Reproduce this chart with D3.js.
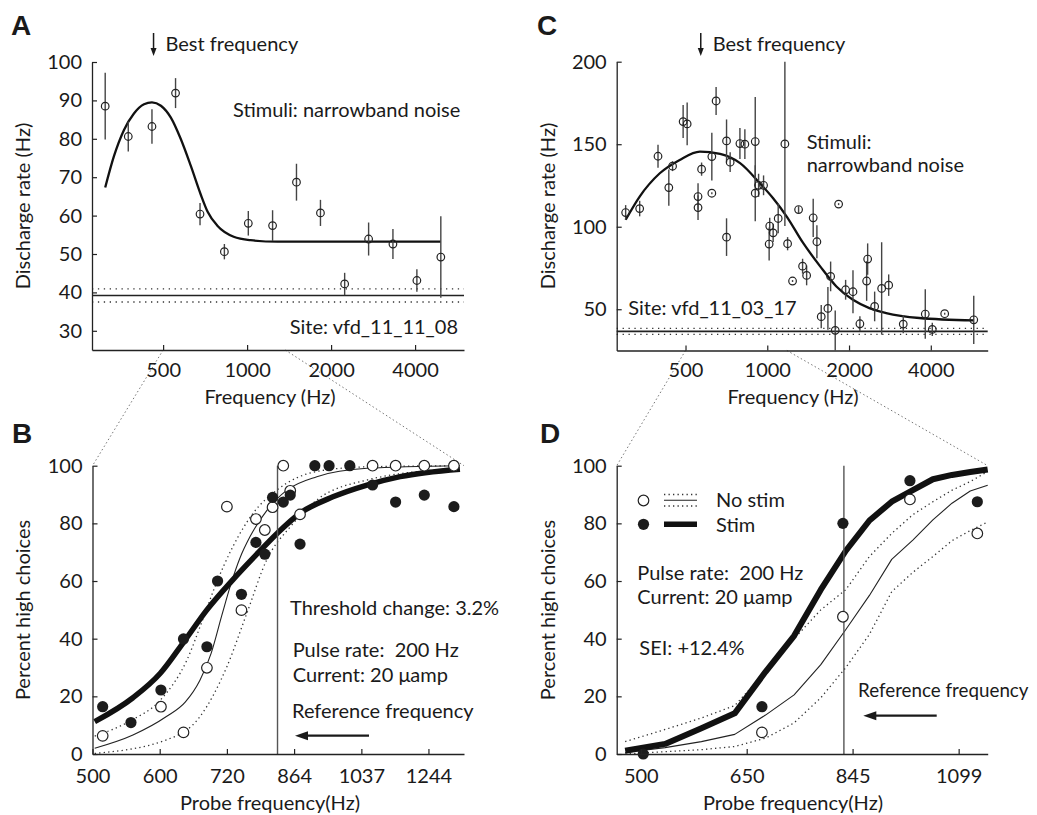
<!DOCTYPE html>
<html>
<head>
<meta charset="utf-8">
<script src="https://cdn.jsdelivr.net/npm/d3@7"></script>
<style>
  body { margin: 0; background: #fff; }
  svg text { font-family: Lato, "Open Sans", sans-serif; fill: #1a1a1a; white-space: pre; }
</style>
</head>
<body>
<svg id="fig" width="1037" height="815"></svg>
<script>
// ---------------- Panel A: tuning curve, site vfd_11_11_08 ----------------
const aFreq = [310, 375, 456, 554, 678, 829, 1010, 1234, 1503, 1832, 2237, 2726, 3332, 4060, 4947];
const aRate = [88.5, 80.6, 83.2, 91.9, 60.4, 50.6, 58.0, 57.4, 68.7, 60.7, 42.2, 53.9, 52.6, 43.1, 49.2];
const aSem  = [8.7, 3.9, 4.5, 3.9, 2.9, 2.0, 3.2, 4.0, 4.8, 3.4, 2.9, 4.3, 3.9, 2.9, 10.6];
const aFitFreq = [310, 333, 362, 393, 427, 456, 491, 533, 578, 628, 682, 722, 784, 895, 1029, 1285, 4947];
const aFitRate = [67.3, 75.4, 82.3, 86.6, 89.0, 89.5, 88.6, 85.5, 80.0, 73.0, 65.5, 61.0, 57.3, 54.5, 53.6, 53.2, 53.2];
const aSpont = 39.2, aSpontSd = 1.7;
const aBestFreq = 462;
const aXTicks = [500, 1000, 2000, 4000];
const aYTicks = [30, 40, 50, 60, 70, 80, 90, 100];

// ---------------- Panel B: psychometric functions, 200 Hz / 20 uA ----------------
const bNoStimFreq = [514, 602, 640, 682, 720, 749, 779, 798, 815, 839, 855, 878, 1069, 1138, 1230, 1333];
const bNoStimPct  = [6.3, 16.4, 7.5, 29.9, 85.8, 49.9, 81.5, 77.7, 85.6, 100, 91.3, 83.1, 100, 100, 100, 100];
const bStimFreq = [514, 555, 602, 640, 682, 702, 749, 779, 798, 815, 839, 855, 878, 914, 950, 1005, 1069, 1138, 1230, 1333];
const bStimPct  = [16.4, 10.9, 22.2, 39.9, 37.2, 60.0, 55.4, 73.4, 69.3, 89.0, 87.4, 89.8, 72.8, 100, 100, 100, 93.3, 87.4, 89.8, 85.8];
const bStimFitFreq = [503, 558, 601, 641, 682, 732, 779, 825, 878, 960, 1053, 1152, 1355];
const bStimFitPct  = [11.2, 19.5, 28, 39, 50, 60.5, 69, 76.5, 83.5, 89.2, 93.3, 96.2, 98.8];
const bNoStimFitFreq = [503, 558, 611, 643, 669, 690, 710, 728, 746, 767, 803, 848, 919, 1053, 1355];
const bNoStimFitPct  = [2, 6.6, 13, 18, 25.5, 35, 48, 59, 68, 75.5, 84.6, 91.6, 96.2, 99.1, 100];
const bNoStimHiFreq = [503, 554, 601, 646, 675, 697, 732, 773, 825, 919, 1053, 1355];
const bNoStimHiPct  = [6.2, 11.5, 18.7, 32.6, 47, 58, 72, 83.5, 91.6, 98, 99.6, 100];
const bNoStimLoFreq = [503, 611, 669, 720, 760, 802, 855, 919, 1052, 1355];
const bNoStimLoPct  = [0.2, 4.9, 12.9, 30.3, 48.8, 67.3, 78.8, 88.1, 95, 99.1];
const bRefFreq = 826;
const bXDomain = [500, 1370];
const bXTicks = [500, 600, 720, 864, 1037, 1244];
const pctTicks = [0, 20, 40, 60, 80, 100];

// ---------------- Panel C: tuning curve, site vfd_11_03_17 ----------------
const cFreq = [301, 339, 396, 434, 448, 490, 507, 556, 556, 573, 625, 625, 648, 708, 708, 730, 793, 827, 903, 903,
               929, 969, 1016, 1021, 1051, 1097, 1161, 1188, 1239, 1304, 1349, 1396, 1476, 1523, 1580, 1672, 1711, 1779,
               1831, 1943, 2068, 2193, 2322, 2342, 2485, 2637, 2799, 3167, 3817, 4051, 4500, 5757];
const cRate = [108.6, 111.0, 142.7, 123.7, 136.7, 163.7, 162.3, 118.3, 111.6, 134.9, 142.5, 120.3, 176.2, 152.0, 93.7, 139.1, 150.4, 150.0, 151.6, 120.3,
               125.1, 125.1, 89.5, 100.4, 96.3, 105.0, 150.2, 89.7, 67.1, 110.4, 76.1, 70.5, 105.4, 90.9, 45.5, 50.5, 69.9, 37.2,
               113.7, 61.8, 60.6, 41.2, 67.1, 80.4, 51.7, 62.6, 64.6, 41.0, 47.1, 37.8, 47.3, 43.6];
const cSem  = [4.5, 4.7, 7.0, 11, 3, 10, 13, 8, 7.5, 4, 14.5, 0.6, 8.5, 13, 11.4, 6, 9.4, 9, 27, 17,
               7, 6, 10, 5, 5.5, 9, 49.8, 4, 0.6, 2, 4.5, 6, 11.6, 10, 7, 13, 9, 12,
               0.6, 6, 13, 4.5, 12, 9.5, 9, 28, 6.5, 5.5, 15, 4, 0.6, 14.6];
const cFitFreq = [301, 339, 402, 476, 565, 670, 794, 938, 1049, 1181, 1353, 1566, 1797, 2067, 2376, 2740, 3630, 5757];
const cFitRate = [104.2, 118.3, 132.4, 140.5, 145.5, 144.1, 138.5, 126.4, 117.4, 106.0, 90.3, 76.0, 63.8, 55.7, 50.7, 47.7, 44.7, 43.2];
const cSpont = 36.6, cSpontSd = 1.8;
const cBestFreq = 569;
const cXTicks = [500, 1000, 2000, 4000];
const cYTicks = [50, 100, 150, 200];

// ---------------- Panel D: psychometric functions, SEI +12.4% ----------------
const dNoStimFreq = [675, 825, 974, 1151];
const dNoStimPct  = [7.5, 47.6, 88.3, 76.5];
const dStimFreq = [503, 675, 825, 974, 1151];
const dStimPct  = [0, 16.4, 80, 94.8, 87.5];
const dFitFreq = [481, 531, 581, 631, 681, 731, 781, 831, 881, 931, 981, 1031, 1081, 1131, 1181];
const dStimFitPct    = [1.1, 3.5, 8.9, 14.1, 28.5, 41, 57, 70.5, 81, 87.5, 91.5, 95.3, 96.8, 97.8, 98.7];
const dNoStimFitPct  = [0.5, 2.2, 4.3, 6.8, 13.5, 20.5, 31, 43.2, 55, 67.5, 74.2, 81.2, 87, 91.2, 93.2];
const dNoStimHiPct   = [4.3, 8.5, 12.5, 16.8, 28.5, 40, 50, 57, 68.5, 76.5, 83, 87.5, 91.5, 94.5, 98];
const dNoStimLoPct   = [0, 0.8, 1.5, 2.6, 5.5, 10.8, 19.5, 30, 41.5, 56.3, 63, 68.5, 74, 77.5, 80.5];
const dRefFreq = 827;
const dXDomain = [471, 1181];
const dZoomFrom = 500;
const dXTicks = [500, 650, 845, 1099];

// ---------------- figure ----------------
const svg = d3.select("#fig");
const INK = "#1a1a1a";

const boxA = { left: 92, right: 464, top: 62, bottom: 350 };
const boxB = { left: 92.5, right: 464, top: 465.7, bottom: 754 };
const boxC = { left: 616.7, right: 987.7, top: 61.7, bottom: 350.5 };
const boxD = { left: 616.7, right: 987.7, top: 465.7, bottom: 754 };

const xA = d3.scaleLog().base(2).domain([278, 5990]).range([boxA.left, boxA.right]);
const yA = d3.scaleLinear().domain([25, 100]).range([boxA.bottom, boxA.top]);
const xB = d3.scaleLog().base(2).domain(bXDomain).range([boxB.left, boxB.right]);
const yB = d3.scaleLinear().domain([0, 100]).range([boxB.bottom, boxB.top]);
const xC = d3.scaleLog().base(2).domain([279, 6480]).range([boxC.left, boxC.right]);
const yC = d3.scaleLinear().domain([25, 200]).range([boxC.bottom, boxC.top]);
const xD = d3.scaleLog().base(2).domain(dXDomain).range([boxD.left, boxD.right]);
const yD = d3.scaleLinear().domain([0, 100]).range([boxD.bottom, boxD.top]);

const zip = (f, v) => f.map((d, i) => ({ f: d, v: v[i] }));

function axes(x, y, xTicks, yTicks, xPad) {
  const g = svg.append("g");
  const ax = d3.axisBottom(x).tickValues(xTicks).tickFormat(d3.format("d"))
    .tickSizeInner(-5).tickSizeOuter(0).tickPadding(xPad);
  const ay = d3.axisLeft(y).tickValues(yTicks).tickFormat(d3.format("d"))
    .tickSizeInner(-5).tickSizeOuter(0).tickPadding(10);
  g.append("g").attr("transform", `translate(0,${y.range()[0]})`).call(ax);
  g.append("g").attr("transform", `translate(${x.range()[0]},0)`).call(ay);
  g.selectAll("g").attr("font-family", null).attr("font-size", null);
  g.selectAll(".domain").attr("stroke", "#222").attr("stroke-width", 1.3);
  g.selectAll(".tick line").attr("stroke", "#222").attr("stroke-width", 1.2);
  g.selectAll(".tick text").style("font-size", "20px").attr("fill", INK);
  return g;
}

function label(txt, x, y, opts = {}) {
  const t = svg.append("text").attr("x", x).attr("y", y).text(txt)
    .style("font-size", (opts.size || 20) + "px")
    .attr("text-anchor", opts.anchor || "start");
  if (opts.rotate) t.attr("transform", `rotate(-90,${x},${y})`);
  if (opts.bold) t.style("font-family", "'Liberation Sans', Arial, sans-serif").style("font-weight", "bold");
  return t;
}

function downArrow(x, y0, y1) {
  svg.append("line").attr("x1", x).attr("x2", x).attr("y1", y0).attr("y2", y1 - 6)
    .attr("stroke", INK).attr("stroke-width", 1.5);
  svg.append("path").attr("d", `M${x - 3},${y1 - 8}L${x + 3},${y1 - 8}L${x},${y1}Z`).attr("fill", INK);
}

function leftArrow(x0, x1, y) {
  svg.append("line").attr("x1", x0).attr("x2", x1 + 10).attr("y1", y).attr("y2", y)
    .attr("stroke", INK).attr("stroke-width", 2.2);
  svg.append("path").attr("d", `M${x1},${y}L${x1 + 13},${y - 4.5}L${x1 + 13},${y + 4.5}Z`).attr("fill", INK);
}

// zoom connectors (dotted) from the tuning-curve axes to the psychometric panels
function connector(x1, y1, x2, y2) {
  svg.append("line").attr("x1", x1).attr("y1", y1).attr("x2", x2).attr("y2", y2)
    .attr("stroke", "#777").attr("stroke-width", 1).attr("stroke-dasharray", "1.5,2.5");
}
connector(xA(bXDomain[0]), boxA.bottom, xB(bXDomain[0]), boxB.top);
connector(xA(bXDomain[1]), boxA.bottom, xB(bXDomain[1]), boxB.top);
connector(xC(dZoomFrom), boxC.bottom, xD(dXDomain[0]), boxD.top);
connector(xC(dXDomain[1]), boxC.bottom, xD(dXDomain[1]), boxD.top);

// ---------- tuning-curve panels (A and C) ----------
function tuning(x, y, freq, rate, sem, fitF, fitR, spont, sd, box) {
  const g = svg.append("g");
  // spontaneous rate with +/- sd band
  [spont - sd, spont + sd].forEach(v => {
    g.append("line").attr("x1", box.left).attr("x2", box.right).attr("y1", y(v)).attr("y2", y(v))
      .attr("stroke", "#333").attr("stroke-width", 1.3).attr("stroke-dasharray", "1.3,4.6");
  });
  g.append("line").attr("x1", box.left).attr("x2", box.right).attr("y1", y(spont)).attr("y2", y(spont))
    .attr("stroke", "#222").attr("stroke-width", 1.6);
  // fitted curve
  g.append("path").datum(zip(fitF, fitR))
    .attr("d", d3.line().x(d => x(d.f)).y(d => y(d.v)).curve(d3.curveMonotoneX))
    .attr("fill", "none").attr("stroke", "#111").attr("stroke-width", 2.3);
  const pts = freq.map((f, i) => ({ f, v: rate[i], e: sem[i] }));
  g.selectAll("line.err").data(pts).join("line").attr("class", "err")
    .attr("x1", d => x(d.f)).attr("x2", d => x(d.f))
    .attr("y1", d => y(Math.min(d.v + d.e, y.domain()[1]))).attr("y2", d => y(d.v - d.e))
    .attr("stroke", "#444").attr("stroke-width", 1.4);
  g.selectAll("circle").data(pts).join("circle")
    .attr("cx", d => x(d.f)).attr("cy", d => y(d.v)).attr("r", 3.8)
    .attr("fill", "none").attr("stroke", "#222").attr("stroke-width", 1.2);
}

tuning(xA, yA, aFreq, aRate, aSem, aFitFreq, aFitRate, aSpont, aSpontSd, boxA);
tuning(xC, yC, cFreq, cRate, cSem, cFitFreq, cFitRate, cSpont, cSpontSd, boxC);
axes(xA, yA, aXTicks, aYTicks, 12.5);
axes(xC, yC, cXTicks, cYTicks, 12.5);

downArrow(xA(aBestFreq), 33, 56);
label("Best frequency", xA(aBestFreq) + 12, 51);
downArrow(xC(cBestFreq), 33, 56);
label("Best frequency", xC(cBestFreq) + 12, 51);

label("Stimuli: narrowband noise", 233, 117);
label("Site: vfd_11_11_08", 458, 334, { anchor: "end" });
label("Stimuli:", 806.7, 149);
label("narrowband noise", 806.7, 172);
label("Site: vfd_11_03_17", 628.3, 315);

label("Discharge rate (Hz)", 30, 206, { anchor: "middle", rotate: true });
label("Discharge rate (Hz)", 555, 206, { anchor: "middle", rotate: true });
label("Frequency (Hz)", 270, 404, { anchor: "middle" });
label("Frequency (Hz)", 793, 404, { anchor: "middle" });

// ---------- psychometric panels (B and D) ----------
function psycho(x, y, box, refFreq, fits, noStim, stim, curve) {
  const g = svg.append("g");
  const line = d3.line().x(d => x(d.f)).y(d => y(d.v)).curve(curve);
  fits.forEach(s => {
    g.append("path").datum(s.data).attr("d", line).attr("fill", "none")
      .attr("stroke", s.color).attr("stroke-width", s.width)
      .attr("stroke-dasharray", s.dash || null).attr("stroke-linejoin", "round");
  });
  g.append("line").attr("x1", x(refFreq)).attr("x2", x(refFreq))
    .attr("y1", box.top).attr("y2", box.bottom).attr("stroke", "#555").attr("stroke-width", 1.4);
  g.selectAll("circle.open").data(noStim).join("circle").attr("class", "open")
    .attr("cx", d => x(d.f)).attr("cy", d => y(d.v)).attr("r", 5.3)
    .attr("fill", "#fff").attr("stroke", "#222").attr("stroke-width", 1.2);
  g.selectAll("circle.fill").data(stim).join("circle").attr("class", "fill")
    .attr("cx", d => x(d.f)).attr("cy", d => y(d.v)).attr("r", 5.6)
    .attr("fill", "#1c1c1c");
}

const dotted = "1.3,3.2";
psycho(xB, yB, boxB, bRefFreq, [
  { data: zip(bNoStimHiFreq, bNoStimHiPct), color: "#333", width: 1.3, dash: dotted },
  { data: zip(bNoStimLoFreq, bNoStimLoPct), color: "#333", width: 1.3, dash: dotted },
  { data: zip(bNoStimFitFreq, bNoStimFitPct), color: "#222", width: 1.1 },
  { data: zip(bStimFitFreq, bStimFitPct), color: "#111", width: 5.5 }
], zip(bNoStimFreq, bNoStimPct), zip(bStimFreq, bStimPct), d3.curveMonotoneX);

psycho(xD, yD, boxD, dRefFreq, [
  { data: zip(dFitFreq, dNoStimHiPct), color: "#333", width: 1.3, dash: dotted },
  { data: zip(dFitFreq, dNoStimLoPct), color: "#333", width: 1.3, dash: dotted },
  { data: zip(dFitFreq, dNoStimFitPct), color: "#222", width: 1.1 },
  { data: zip(dFitFreq, dStimFitPct), color: "#111", width: 6 }
], zip(dNoStimFreq, dNoStimPct), zip(dStimFreq, dStimPct), d3.curveLinear);

axes(xB, yB, bXTicks, pctTicks, 14.5);
axes(xD, yD, dXTicks, pctTicks, 14.5);

label("Threshold change: 3.2%", 290, 615);
label("Pulse rate:  200 Hz", 292.7, 657);
label("Current: 20 \u03bcamp", 292.7, 682);
label("Reference frequency", 292, 718);
leftArrow(369, 295, 735.7);

label("Pulse rate:  200 Hz", 637.3, 580);
label("Current: 20 \u03bcamp", 637.3, 604);
label("SEI: +12.4%", 639.3, 655);
label("Reference frequency", 858, 697, { size: 18.8 });
leftArrow(936.7, 863.3, 715.7);

// legend (panel D)
const lg = svg.append("g");
lg.append("circle").attr("cx", 643.5).attr("cy", 500.5).attr("r", 5.3)
  .attr("fill", "#fff").attr("stroke", "#222").attr("stroke-width", 1.2);
[494.5, 506].forEach(yy => lg.append("line").attr("x1", 664).attr("x2", 697).attr("y1", yy).attr("y2", yy)
  .attr("stroke", "#333").attr("stroke-width", 1.3).attr("stroke-dasharray", dotted));
lg.append("line").attr("x1", 664).attr("x2", 697).attr("y1", 500.3).attr("y2", 500.3)
  .attr("stroke", "#222").attr("stroke-width", 1.1);
lg.append("circle").attr("cx", 643.5).attr("cy", 524.3).attr("r", 5.6).attr("fill", "#1c1c1c");
lg.append("line").attr("x1", 664).attr("x2", 697).attr("y1", 524.3).attr("y2", 524.3)
  .attr("stroke", "#111").attr("stroke-width", 5.5);
label("No stim", 716, 507);
label("Stim", 716, 532);

label("Percent high choices", 30, 610, { anchor: "middle", rotate: true });
label("Percent high choices", 555, 610, { anchor: "middle", rotate: true });
label("Probe frequency(Hz)", 270, 810, { anchor: "middle" });
label("Probe frequency(Hz)", 793, 810, { anchor: "middle" });

// panel letters
label("A", 11, 35, { size: 28, bold: true });
label("B", 12, 443, { size: 28, bold: true });
label("C", 537, 35, { size: 28, bold: true });
label("D", 540, 443, { size: 28, bold: true });
</script>
</body>
</html>
